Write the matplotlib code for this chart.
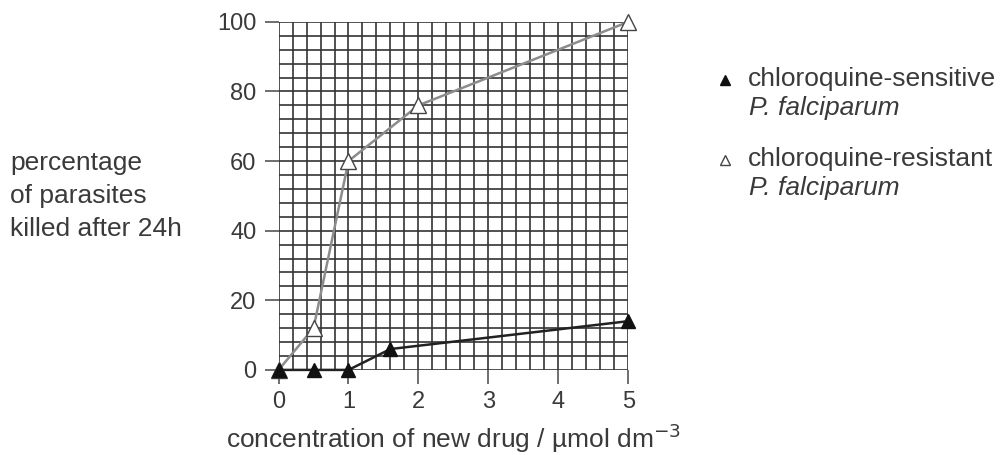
import numpy as np
import matplotlib
matplotlib.use("Agg")
import matplotlib.pyplot as plt

plt.rcParams['font.family'] = ['Liberation Sans', 'DejaVu Sans']

# data
conc_resistant = [0, 0.5, 1, 2, 5]
kill_resistant = [0, 12, 60, 76, 100]
conc_sensitive = [0, 0.5, 1, 1.6, 5]
kill_sensitive = [0, 0, 0, 6, 14]
x_ticks = [0, 1, 2, 3, 4, 5]
y_ticks = [0, 20, 40, 60, 80, 100]

txt = "#3a3a3a"
H = 455

fig = plt.figure(figsize=(10.02, 4.55), dpi=100)
ax = fig.add_axes([0.278, 0.187, 0.349, 0.765])

ax.set_xlim(0, 5)
ax.set_ylim(0, 100)

# graph paper grid, 25 x 25 squares
for xv in np.arange(0, 5.001, 0.2):
    ax.axvline(xv, color="#333333", lw=1.2, zorder=1)
for yv in np.arange(0, 100.001, 4):
    ax.axhline(yv, color="#333333", lw=1.2, zorder=1)

ax.plot(conc_resistant, kill_resistant, color="#8c8c8c", lw=1.8, zorder=3,
        marker="^", markersize=11, markerfacecolor="white",
        markeredgecolor="#444444", markeredgewidth=1.0, clip_on=False)
ax.plot(conc_sensitive, kill_sensitive, color="#222222", lw=1.8, zorder=4,
        marker="^", markersize=10, markerfacecolor="#111111",
        markeredgecolor="#111111", clip_on=False)

for s in ax.spines.values():
    s.set_visible(False)

ax.set_xticks(x_ticks)
ax.set_yticks(y_ticks)
ax.tick_params(axis="both", direction="out", length=10, width=1.2,
               color="#555555", labelsize=17, labelcolor=txt)
ax.tick_params(axis="y", pad=6)
ax.tick_params(axis="x", pad=5)

fig.text(0.010, 1 - 163 / H, "percentage", fontsize=19, color=txt, va="center")
fig.text(0.010, 1 - 196 / H, "of parasites", fontsize=19, color=txt, va="center")
fig.text(0.010, 1 - 229 / H, "killed after 24h", fontsize=19, color=txt, va="center")

fig.text(0.4525, 1 - 438 / H, r"concentration of new drug / µmol dm$^{-3}$",
         fontsize=19, color=txt, ha="center", va="center")

# legend drawn by hand
fig.lines.append(plt.Line2D([0.7235], [1 - 80 / H], transform=fig.transFigure,
                            marker="^", markersize=7, color="#111111", lw=0))
fig.text(0.746, 1 - 79 / H, "chloroquine-sensitive", fontsize=19, color=txt, va="center")
fig.text(0.748, 1 - 108 / H, "P. falciparum", fontsize=19, color=txt, va="center", style="italic")
fig.lines.append(plt.Line2D([0.7235], [1 - 160 / H], transform=fig.transFigure,
                            marker="^", markersize=7, markerfacecolor="white",
                            markeredgecolor="#444444", lw=0))
fig.text(0.746, 1 - 159 / H, "chloroquine-resistant", fontsize=19, color=txt, va="center")
fig.text(0.748, 1 - 188 / H, "P. falciparum", fontsize=19, color=txt, va="center", style="italic")

fig.savefig("out.png", dpi=100, facecolor="white")
